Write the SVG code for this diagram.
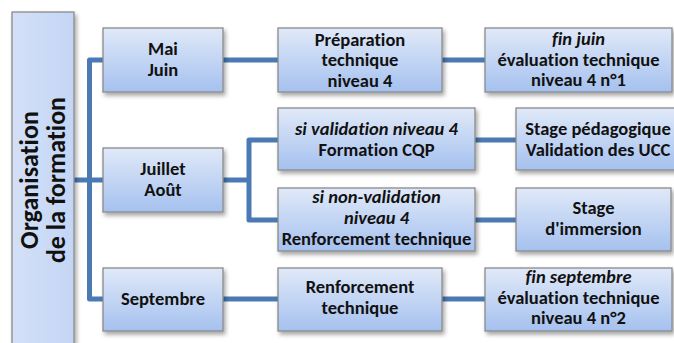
<svg xmlns="http://www.w3.org/2000/svg" width="674" height="343" viewBox="0 0 674 343">
<defs>
<linearGradient id="g" x1="0" y1="0" x2="0" y2="1">
<stop offset="0" stop-color="#E0E9F8"/>
<stop offset="1" stop-color="#A5C1EF"/>
</linearGradient>
<linearGradient id="gl" x1="0" y1="0" x2="1" y2="0">
<stop offset="0" stop-color="#D3E0F7"/>
<stop offset="1" stop-color="#C4D6F5"/>
</linearGradient>
<filter id="sh" x="-10%" y="-10%" width="125%" height="130%">
<feDropShadow dx="2" dy="3" stdDeviation="2" flood-color="#000" flood-opacity="0.35"/>
</filter>
</defs>
<style>
.box{fill:url(#g);stroke:#8A8A8A;stroke-width:1.3;filter:url(#sh)}
.lbox{fill:url(#gl);stroke:#8A8A8A;stroke-width:1.3;filter:url(#sh)}
text{font-family:Carlito,Calibri,Lato,"Open Sans",sans-serif;font-weight:bold;font-size:18.5px;fill:#111;text-anchor:middle;font-variant-ligatures:none}
.i{font-style:italic}
.v{font-size:26px}
.c{fill:none;stroke:#4A79B4;stroke-width:5;stroke-linejoin:round}
</style>
<g id="connectors">
<path class="c" d="M74,180 H103"/>
<path class="c" d="M103,60 H89.5 V299 H103"/>
<path class="c" d="M223,60 H278"/>
<path class="c" d="M442,60 H485"/>
<path class="c" d="M223,180 H249"/>
<path class="c" d="M278,140 H249 V220 H278"/>
<path class="c" d="M475,140 H516"/>
<path class="c" d="M475,220 H516"/>
<path class="c" d="M223,299 H278"/>
<path class="c" d="M442,299 H485"/>
</g>
<g id="org">
<rect class="lbox" x="12" y="12" width="62" height="340"/>
<text class="v" transform="translate(43,180) rotate(-90)"><tspan x="0" y="-5">Organisation</tspan><tspan x="0" y="22">de la formation</tspan></text>
</g>
<g id="maijuin">
<rect class="box" x="103" y="28" width="120" height="64"/>
<text><tspan x="163" y="55">Mai</tspan><tspan x="163" y="76">Juin</tspan></text>
</g>
<g id="juilletaout">
<rect class="box" x="103" y="148" width="120" height="64"/>
<text><tspan x="163" y="175">Juillet</tspan><tspan x="163" y="196">Août</tspan></text>
</g>
<g id="septembre">
<rect class="box" x="103" y="268" width="120" height="63"/>
<text x="163" y="305">Septembre</text>
</g>
<g id="preparation">
<rect class="box" x="278" y="28" width="164" height="64"/>
<text><tspan x="360" y="45.5">Préparation</tspan><tspan x="360" y="66">technique</tspan><tspan x="360" y="86.5">niveau 4</tspan></text>
</g>
<g id="validation">
<rect class="box" x="278" y="108" width="197" height="62"/>
<text><tspan class="i" x="376.5" y="135">si validation niveau 4</tspan><tspan x="376.5" y="156">Formation CQP</tspan></text>
</g>
<g id="nonvalidation">
<rect class="box" x="278" y="188" width="197" height="63"/>
<text><tspan class="i" x="376.5" y="203">si non-validation</tspan><tspan class="i" x="376.5" y="224">niveau 4</tspan><tspan x="376.5" y="245">Renforcement technique</tspan></text>
</g>
<g id="renforcement">
<rect class="box" x="278" y="268" width="164" height="63"/>
<text><tspan x="360" y="293">Renforcement</tspan><tspan x="360" y="314">technique</tspan></text>
</g>
<g id="finjuin">
<rect class="box" x="485" y="28" width="187" height="64"/>
<text><tspan class="i" x="578.5" y="45">fin juin</tspan><tspan x="578.5" y="66">évaluation technique</tspan><tspan x="578.5" y="86">niveau 4 n°1</tspan></text>
</g>
<g id="stagepeda">
<rect class="box" x="516" y="108" width="164" height="62"/>
<text><tspan x="598" y="135">Stage pédagogique</tspan><tspan x="598" y="156">Validation des UCC</tspan></text>
</g>
<g id="immersion">
<rect class="box" x="516" y="188" width="155" height="63"/>
<text><tspan x="593.5" y="214">Stage</tspan><tspan x="593.5" y="235">d'immersion</tspan></text>
</g>
<g id="finseptembre">
<rect class="box" x="485" y="268" width="187" height="63"/>
<text><tspan class="i" x="578.5" y="283">fin septembre</tspan><tspan x="578.5" y="304">évaluation technique</tspan><tspan x="578.5" y="324">niveau 4  n°2</tspan></text>
</g>
</svg>
